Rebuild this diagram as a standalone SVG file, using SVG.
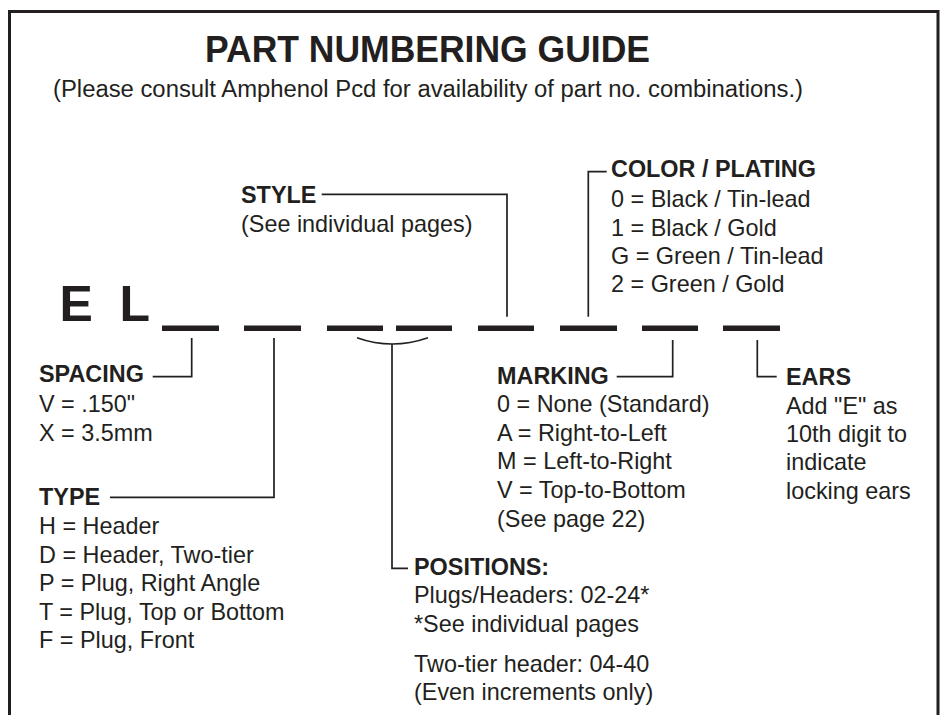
<svg xmlns="http://www.w3.org/2000/svg" width="943" height="715" viewBox="0 0 943 715">
<defs>
<style>
text{font-family:"Liberation Sans",Arial,Helvetica,sans-serif;fill:#231f20}
.t{font-weight:bold;font-size:36px}
.s{font-size:23.5px}
.b{font-weight:bold;font-size:23.4px}
.r{font-size:23.4px}
.big{font-weight:bold;font-size:50px}
.ln{fill:none;stroke:#231f20;stroke-width:1.7}
.dash{fill:#231f20}
</style>
</defs>
<rect width="943" height="715" fill="#fff"/>
<path d="M9.5,715 V11.5 H938 V715" fill="none" stroke="#231f20" stroke-width="3"/>
<g id="title">
<text class="t" x="205" y="62" textLength="445" lengthAdjust="spacingAndGlyphs">PART NUMBERING GUIDE</text>
<text class="s" x="53" y="97" textLength="750" lengthAdjust="spacingAndGlyphs">(Please consult Amphenol Pcd for availability of part no. combinations.)</text>
</g>
<g id="partnumber">
<text class="big" x="59.5" y="321">E</text>
<text class="big" x="119.6" y="321">L</text>
<rect class="dash" x="162" y="325.5" width="57" height="5.5"/>
<rect class="dash" x="244" y="325.5" width="57" height="5.5"/>
<rect class="dash" x="327" y="325.5" width="56" height="5.5"/>
<rect class="dash" x="396" y="325.5" width="56" height="5.5"/>
<rect class="dash" x="478" y="325.5" width="56" height="5.5"/>
<rect class="dash" x="560" y="325.5" width="57" height="5.5"/>
<rect class="dash" x="642" y="325.5" width="56" height="5.5"/>
<rect class="dash" x="723" y="325.5" width="57" height="5.5"/>
</g>
<g id="connectors">
<path class="ln" d="M152.7,376.7 H191.7 V338"/>
<path class="ln" d="M110,497.3 H274 V338"/>
<path class="ln" d="M357,337.7 Q392,350.3 428,337.7"/>
<path class="ln" d="M392,344 V568.3 H408"/>
<path class="ln" d="M321.7,194.3 H507 V316.7"/>
<path class="ln" d="M606.7,171.7 H588.3 V316.7"/>
<path class="ln" d="M616.7,376.7 H672.7 V340"/>
<path class="ln" d="M757.3,340 V376.7 H776.7"/>
</g>
<g id="spacing">
<text class="b" x="39" y="382">SPACING</text>
<text class="r" x="39" y="411.7">V = .150"</text>
<text class="r" x="39" y="440.7">X = 3.5mm</text>
</g>
<g id="type">
<text class="b" x="39" y="505">TYPE</text>
<text class="r" x="39" y="534">H = Header</text>
<text class="r" x="39" y="562.7">D = Header, Two-tier</text>
<text class="r" x="39" y="591">P = Plug, Right Angle</text>
<text class="r" x="39" y="619.5">T = Plug, Top or Bottom</text>
<text class="r" x="39" y="648.3">F = Plug, Front</text>
</g>
<g id="style">
<text class="b" x="241" y="203">STYLE</text>
<text class="r" x="241" y="232">(See individual pages)</text>
</g>
<g id="color">
<text class="b" x="611" y="177">COLOR / PLATING</text>
<text class="r" x="611" y="207">0 = Black / Tin-lead</text>
<text class="r" x="611" y="235.5">1 = Black / Gold</text>
<text class="r" x="611" y="264">G = Green / Tin-lead</text>
<text class="r" x="611" y="292">2 = Green / Gold</text>
</g>
<g id="marking">
<text class="b" x="497" y="384">MARKING</text>
<text class="r" x="497" y="412">0 = None (Standard)</text>
<text class="r" x="497" y="440.5">A = Right-to-Left</text>
<text class="r" x="497" y="469">M = Left-to-Right</text>
<text class="r" x="497" y="498">V = Top-to-Bottom</text>
<text class="r" x="497" y="527">(See page 22)</text>
</g>
<g id="ears">
<text class="b" x="786" y="385">EARS</text>
<text class="r" x="786" y="413.5">Add "E" as</text>
<text class="r" x="786" y="442">10th digit to</text>
<text class="r" x="786" y="470">indicate</text>
<text class="r" x="786" y="498.5">locking ears</text>
</g>
<g id="positions">
<text class="b" x="414" y="575">POSITIONS:</text>
<text class="r" x="414" y="603">Plugs/Headers: 02-24*</text>
<text class="r" x="414" y="632">*See individual pages</text>
<text class="r" x="414" y="672">Two-tier header: 04-40</text>
<text class="r" x="414" y="700">(Even increments only)</text>
</g>
</svg>
